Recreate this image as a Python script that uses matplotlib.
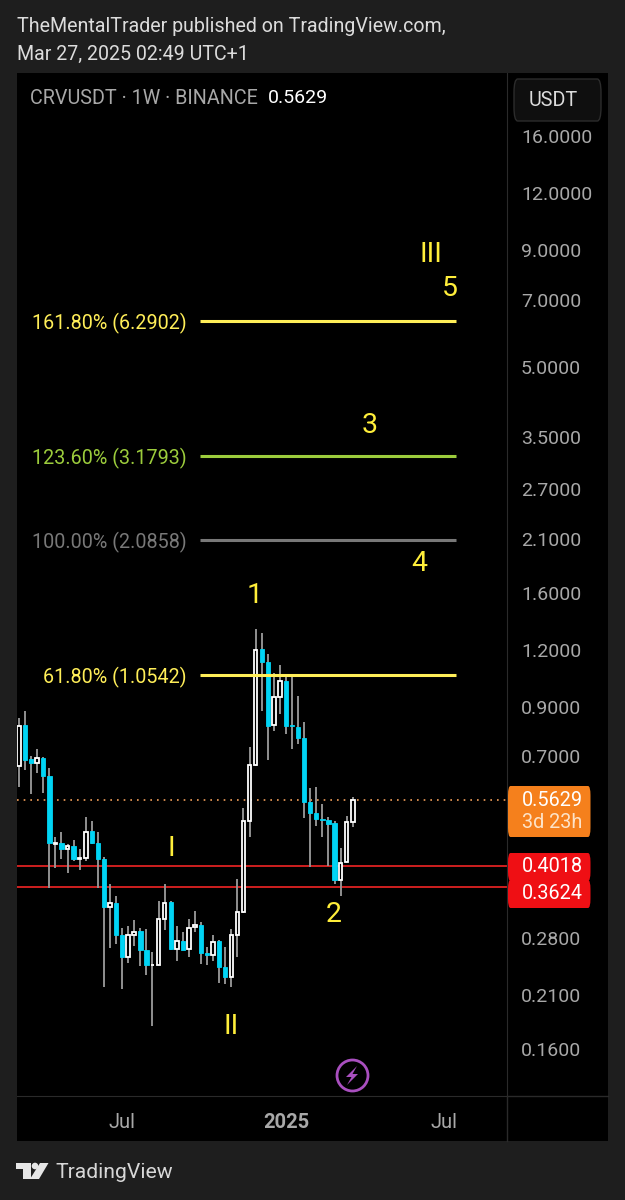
import numpy as np
from matplotlib import pyplot as plt
from matplotlib.patches import Rectangle, FancyBboxPatch, Circle, Polygon

plt.rcParams['font.family'] = ['Roboto', 'DejaVu Sans']

# weekly candles, CRVUSDT
opens = [.667, .820, .691, .678, .695, .635, .451, .452, .439, .446, .418, .419, .481, .453,
         .417, .328, .334, .285, .255, .285, .2905, .2636, .2445, .2447, .308, .335, .2645, .276,
         .2645, .2957, .299, .2593, .2566, .276, .242, .230, .284, .319, .506, .669, 1.201, 1.125,
         .820, .946, 1.025, .820, .813, .767, .555, .525, .511, .509, .500, .375, .411, .503]
highs = [.851, .880, .701, .727, .697, .659, .467, .477, .450, .459, .438, .515, .505, .477,
         .422, .367, .346, .2945, .2975, .307, .294, .2926, .2606, .338, .367, .338, .2975, .289,
         .308, .3215, .304, .267, .284, .277, .267, .293, .377, .539, .735, 1.331, 1.302, 1.171,
         1.064, 1.110, 1.055, 1.055, .949, .831, .598, .599, .550, .516, .505, .440, .519, .571]
lows = [.601, .653, .578, .644, .583, .360, .398, .417, .388, .414, .395, .413, .4495, .360,
        .219, .266, .272, .217, .247, .269, .2435, .232, .180, .2445, .292, .2636, .249, .263,
        .254, .288, .246, .2445, .249, .2235, .222, .219, .255, .318, .467, .667, .8815, .687,
        .797, .866, .784, .727, .745, .512, .401, .493, .467, .403, .368, .346, .4105, .491]
closes = [.816, .687, .678, .693, .635, .453, .453, .438, .4455, .417, .419, .479, .452, .417,
          .328, .334, .285, .255, .285, .289, .2636, .244, .245, .308, .334, .2645, .2755, .2636,
          .295, .2985, .2593, .2566, .275, .242, .230, .284, .319, .506, .669, 1.197, 1.125, .816,
          .943, 1.024, .817, .815, .767, .555, .525, .510, .508, .4985, .375, .4095, .502, .5629]

fib_pct = ['161.80%', '123.60%', '100.00%', '61.80%']
fib_val = [6.2902, 3.1793, 2.0858, 1.0542]
fib_col = ['#ffee58', '#9ccc3c', '#787878', '#ffee58']

support = [0.4018, 0.3624]
last_price = 0.5629

price_ticks = [16, 12, 9, 7, 5, 3.5, 2.7, 2.1, 1.6, 1.2, 0.9, 0.7, 0.28, 0.21, 0.16]
week_ticks = [17, 44, 70]
week_labels = ['Jul', '2025', 'Jul']

BG = '#1e1e1e'
UP = '#ffffff'
DOWN = '#00d4f5'
WICK = '#969696'
YEL = '#ffee3a'
W, H = 625, 1200


def fx(x):
    return x / W


def fy(y):
    return 1 - y / H


fig = plt.figure(figsize=(6.25, 12), dpi=100, facecolor=BG)
fig.patches.append(Rectangle((fx(17), fy(1141)), 591 / W, 1068 / H, transform=fig.transFigure,
                             facecolor='black', edgecolor='none', zorder=-1))

ax = fig.add_axes([fx(17), fy(1096), 490 / W, 1023 / H], facecolor='black')
ax.set_yscale('log')
ax.set_xlim(-0.33, 80.43)
ax.set_ylim(0.1262, 22.0)

x = np.arange(len(opens))
o = np.array(opens)
c = np.array(closes)
up = c >= o

ax.vlines(x, lows, highs, color=WICK, lw=1.35, zorder=2)
ax.bar(x[up], np.abs(c - o)[up], bottom=np.minimum(o, c)[up], width=0.6,
       facecolor='black', edgecolor=UP, linewidth=1.3, zorder=3)
ax.bar(x[~up], np.abs(c - o)[~up], bottom=np.minimum(o, c)[~up], width=0.72,
       facecolor=DOWN, edgecolor=DOWN, linewidth=0.6, zorder=3)

for pct, val, col in zip(fib_pct, fib_val, fib_col):
    ax.hlines(val, 29.8, 72.0, color=col, lw=2.2, zorder=4)
    ax.text(27.7, val, f'{pct} ({val:.4f})', color=col, fontsize=14.2, ha='right', va='center_baseline')

ax.axhline(support[0], color='#cf1f1f', lw=1.4, zorder=1.5)
ax.axhline(support[1], color='#cf1f1f', lw=1.4, zorder=1.5)
ax.axhline(last_price, color='#f5a05a', lw=1.2, ls=(0, (1, 3)), zorder=1)

ax.yaxis.tick_right()
ax.set_yticks(price_ticks)
ax.set_yticklabels([f'{p:.4f}' for p in price_ticks])
ax.minorticks_off()
ax.set_xticks(week_ticks)
ax.set_xticklabels(week_labels)
ax.get_xticklabels()[1].set_fontweight('bold')
ax.tick_params(axis='y', length=0, pad=10, labelsize=14, labelcolor='#a8a8a8')
ax.tick_params(axis='x', length=0, pad=12, labelsize=14.5, labelcolor='#a8a8a8')
for side in ['top', 'left']:
    ax.spines[side].set_visible(False)
for side in ['right', 'bottom']:
    ax.spines[side].set_color('#2a2a2a')

# wave counts
for s, px, py in [('1', 255, 596), ('2', 334, 914), ('3', 370, 425), ('4', 419, 563), ('5', 450, 288),
                  ('I', 171, 848), ('II', 231, 1027), ('III', 431, 254)]:
    fig.text(fx(px), fy(py), s, color=YEL, fontsize=20.5, ha='center', va='center')

# header and footer
fig.text(fx(17), fy(27), 'TheMentalTrader published on TradingView.com,', color='#dcdcdc', fontsize=14.1, va='center')
fig.text(fx(17), fy(54), 'Mar 27, 2025 02:49 UTC+1', color='#dcdcdc', fontsize=14.1, va='center')
fig.text(fx(30), fy(98), 'CRVUSDT · 1W · BINANCE', color='#a8a8a8', fontsize=14.2, va='center')
fig.text(fx(268), fy(98), f'{last_price:.4f}', color='white', fontsize=14, va='center')
fig.text(fx(55), fy(1172), 'TradingView', color='#d8d8d8', fontsize=15.2, va='center')

fig.lines.append(plt.Line2D([fx(507), fx(507)], [fy(1096), fy(1141)], color='#2a2a2a', lw=1, transform=fig.transFigure))
fig.lines.append(plt.Line2D([fx(507), fx(608)], [fy(1096), fy(1096)], color='#2a2a2a', lw=1, transform=fig.transFigure))

# currency button
fig.patches.append(FancyBboxPatch((fx(514), fy(121)), 87 / W, 42 / H, transform=fig.transFigure,
                                  boxstyle='round,pad=0,rounding_size=0.006', mutation_aspect=H / W,
                                  facecolor='#0f0f0f', edgecolor='#2c2c2c', lw=1))
fig.text(fx(529), fy(100), 'USDT', color='#dcdcdc', fontsize=14.2, va='center')

# price tags
for top, h, col in [(786, 51, '#f5801c'), (853, 28, '#ef0f14'), (880, 28, '#ef0f14')]:
    fig.patches.append(FancyBboxPatch((fx(508), fy(top + h)), 82.5 / W, h / H, transform=fig.transFigure,
                                      boxstyle='round,pad=0,rounding_size=0.004', mutation_aspect=H / W,
                                      facecolor=col, edgecolor='none'))
fig.text(fx(521.5), fy(800.5), f'{last_price:.4f}', color='white', fontsize=14.3, va='center')
fig.text(fx(521.5), fy(823), '3d 23h', color='#fde3c8', fontsize=14.3, va='center')
fig.text(fx(521.5), fy(866.5), f'{support[0]:.4f}', color='white', fontsize=14.3, va='center')
fig.text(fx(521.5), fy(893.5), f'{support[1]:.4f}', color='white', fontsize=14.3, va='center')

# lightning badge
overlay = fig.add_axes([0, 0, 1, 1], facecolor='none')
overlay.set_xlim(0, W)
overlay.set_ylim(H, 0)
overlay.axis('off')
overlay.add_patch(Circle((352.5, 1075.5), 15.5, facecolor='none', edgecolor='#a94fbf', lw=2))
overlay.add_patch(Polygon([(357, 1066), (346, 1077), (351.5, 1077), (347, 1085), (358, 1074), (352.5, 1074)],
                          facecolor='#a94fbf', edgecolor='none'))
# logo
overlay.add_patch(Polygon([(16, 1163), (31, 1163), (31, 1179), (23, 1179), (23, 1169), (16, 1169)],
                          facecolor='#e6e6e6', edgecolor='none'))
overlay.add_patch(Circle((35, 1166), 3.3, facecolor='#e6e6e6', edgecolor='none'))
overlay.add_patch(Polygon([(40, 1163), (48.5, 1163), (39, 1179), (30, 1179)], facecolor='#e6e6e6', edgecolor='none'))

fig.savefig('out.png', dpi=100, facecolor=BG)
